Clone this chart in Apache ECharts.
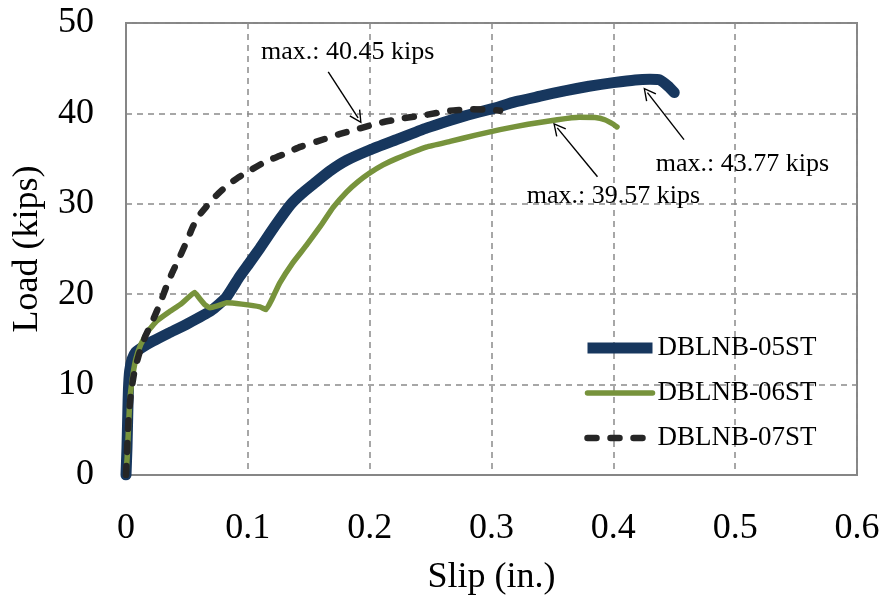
<!DOCTYPE html>
<html>
<head>
<meta charset="utf-8">
<title>Load–slip curves</title>
<script src="https://cdn.jsdelivr.net/npm/echarts@6/dist/echarts.min.js"></script>
<style>
  html, body { margin: 0; padding: 0; background: #fff; }
  #chart { width: 885px; height: 598px; }
</style>
</head>
<body>
<div id="chart"></div>
<script>
// Specimen names
const seriesNames = ['DBLNB-05ST', 'DBLNB-06ST', 'DBLNB-07ST'];

// DBLNB-05ST: slip (in.) and load (kips)
const slip05 = [0, 0.0008, 0.0015, 0.002, 0.003, 0.005, 0.008, 0.013, 0.022, 0.035, 0.050, 0.070, 0.082,
  0.093, 0.101, 0.110, 0.122, 0.135, 0.144, 0.154, 0.167, 0.181, 0.200, 0.222, 0.247, 0.265, 0.280, 0.300,
  0.320, 0.340, 0.360, 0.380, 0.400, 0.418, 0.430, 0.438, 0.445, 0.450];
const load05 = [0, 3, 7, 9.5, 11.5, 12.8, 13.6, 14.1, 14.8, 15.7, 16.7, 18.2, 19.6,
  21.9, 23.4, 25.1, 27.5, 29.9, 31.1, 32.2, 33.6, 34.8, 35.95, 37.1, 38.4, 39.2, 39.8, 40.5,
  41.3, 41.9, 42.5, 43.0, 43.4, 43.7, 43.77, 43.7, 43.0, 42.3];

// DBLNB-06ST
const slip06 = [0, 0.001, 0.002, 0.003, 0.005, 0.008, 0.012, 0.018, 0.025, 0.035, 0.045, 0.0564, 0.060,
  0.065, 0.069, 0.075, 0.0825, 0.095, 0.110, 0.115, 0.120, 0.126, 0.137, 0.148, 0.160, 0.170, 0.181,
  0.190, 0.200, 0.211, 0.222, 0.247, 0.266, 0.287, 0.307, 0.330, 0.354, 0.372, 0.385, 0.393, 0.400, 0.403];
const load06 = [0, 2, 5, 8, 10.5, 12.8, 14.4, 15.9, 17.0, 18.0, 18.9, 20.2, 19.6,
  18.8, 18.5, 18.7, 19.05, 18.9, 18.6, 18.3, 19.5, 21.2, 23.5, 25.4, 27.6, 29.6, 31.3,
  32.4, 33.4, 34.3, 35.0, 36.3, 36.9, 37.6, 38.2, 38.8, 39.3, 39.57, 39.55, 39.3, 38.8, 38.5];

// DBLNB-07ST
const slip07 = [0, 0.001, 0.002, 0.004, 0.007, 0.011, 0.016, 0.022, 0.028, 0.033, 0.038, 0.044, 0.050, 0.055,
  0.060, 0.066, 0.074, 0.082, 0.092, 0.102, 0.115, 0.128, 0.143, 0.157, 0.175, 0.192, 0.210, 0.225, 0.247,
  0.266, 0.285, 0.300, 0.307];
const load07 = [0, 3, 6, 9, 11.5, 13.5, 15.4, 17.1, 19.0, 20.8, 22.4, 24.1, 25.9, 27.5,
  28.7, 29.7, 30.9, 31.9, 32.9, 33.7, 34.7, 35.4, 36.3, 36.9, 37.7, 38.35, 39.0, 39.4, 39.85,
  40.3, 40.45, 40.4, 40.3];

// Axis ticks
const xTicks = [0, 0.1, 0.2, 0.3, 0.4, 0.5, 0.6];
const yTicks = [0, 10, 20, 30, 40, 50];

// Peak-load callouts: label anchor, arrow tail, arrow head (slip, load)
const callout05 = { text: [0.506, 34.4], tail: [0.458, 37.1], head: [0.428, 42.3] };
const callout06 = { text: [0.400, 30.8], tail: [0.387, 33.0], head: [0.354, 38.4] };
const callout07 = { text: [0.182, 46.8], tail: [0.166, 44.6], head: [0.1905, 39.5] };

const FONT = '"Liberation Serif", "Times New Roman", serif';
const colors = ['#17375E', '#77933C', '#262626'];

function pairs(xs, ys) { return xs.map((x, i) => [x, ys[i]]); }
function peakLabel(ys) { return 'max.: ' + Math.max(...ys).toFixed(2) + ' kips'; }

// Open (chevron) arrow head, tip at top
const chevron = 'path://M0,0 L7,13 L5.6,13.6 L0,3 L-5.6,13.6 L-7,13 Z';

function callout(c, ys) {
  return {
    markLine: {
      silent: true,
      animation: false,
      symbol: ['none', chevron],
      symbolSize: [13, 13],
      label: { show: false },
      lineStyle: { color: '#000', width: 1.4, type: 'solid' },
      data: [[{ coord: c.tail }, { coord: c.head }]]
    },
    markPoint: {
      silent: true,
      animation: false,
      symbol: 'rect',
      symbolSize: 1,
      itemStyle: { color: 'rgba(0,0,0,0)' },
      label: {
        show: true, position: 'inside', color: '#000',
        fontFamily: FONT, fontSize: 26, formatter: peakLabel(ys)
      },
      data: [{ coord: c.text }]
    }
  };
}

const chart = echarts.init(document.getElementById('chart'), null, { renderer: 'canvas' });

chart.setOption({
  animation: false,
  backgroundColor: '#fff',
  grid: {
    left: 126, right: 28, top: 23, bottom: 123,
    containLabel: false, outerBoundsMode: 'none',
    show: true, borderColor: '#868686', borderWidth: 2, backgroundColor: 'transparent'
  },
  xAxis: {
    type: 'value', min: xTicks[0], max: xTicks[xTicks.length - 1], interval: 0.1,
    name: 'Slip (in.)', nameLocation: 'middle', nameGap: 85,
    nameTextStyle: { fontFamily: FONT, fontSize: 36, color: '#000' },
    axisLine: { show: true, lineStyle: { color: '#868686', width: 2 } },
    axisTick: { show: false },
    axisLabel: { fontFamily: FONT, fontSize: 36, color: '#000', margin: 36,
      formatter: v => String(xTicks.find(t => Math.abs(t - v) < 1e-9) ?? v) },
    splitLine: { show: true, lineStyle: { color: '#8a8a8a', width: 1.5, type: [6, 5] } }
  },
  yAxis: {
    type: 'value', min: yTicks[0], max: yTicks[yTicks.length - 1], interval: 10,
    name: 'Load (kips)', nameLocation: 'middle', nameGap: 80, nameRotate: 90,
    nameTextStyle: { fontFamily: FONT, fontSize: 36, color: '#000' },
    axisLine: { show: true, lineStyle: { color: '#868686', width: 2 } },
    axisTick: { show: false },
    axisLabel: { fontFamily: FONT, fontSize: 36, color: '#000', margin: 32 },
    splitLine: { show: true, lineStyle: { color: '#8a8a8a', width: 1.5, type: [6, 5] } }
  },
  legend: {
    data: [
      { name: seriesNames[0], lineStyle: { cap: 'butt' } },
      { name: seriesNames[1] },
      { name: seriesNames[2] }
    ],
    orient: 'vertical',
    left: 577, top: 328,
    itemWidth: 65, itemHeight: 14, itemGap: 15,
    textStyle: { fontFamily: FONT, fontSize: 27, color: '#000', lineHeight: 30 },
    lineStyle: { width: 'inherit' },
    itemStyle: { opacity: 0, borderWidth: 0 },
    selectedMode: false
  },
  series: [
    Object.assign({
      name: seriesNames[0], type: 'line', data: pairs(slip05, load05),
      symbol: 'none', showSymbol: false, smooth: 0.15, z: 2,
      lineStyle: { color: colors[0], width: 11, cap: 'round', join: 'round' },
      itemStyle: { color: colors[0] }
    }, callout(callout05, load05)),
    Object.assign({
      name: seriesNames[1], type: 'line', data: pairs(slip06, load06),
      symbol: 'none', showSymbol: false, smooth: 0.1, z: 3,
      lineStyle: { color: colors[1], width: 5.5, cap: 'round', join: 'round' },
      itemStyle: { color: colors[1] }
    }, callout(callout06, load06)),
    Object.assign({
      name: seriesNames[2], type: 'line', data: pairs(slip07, load07),
      symbol: 'none', showSymbol: false, smooth: 0.15, z: 4,
      lineStyle: { color: colors[2], width: 6.5, type: [9, 14], cap: 'round', join: 'round' },
      itemStyle: { color: colors[2] }
    }, callout(callout07, load07))
  ]
});
</script>
</body>
</html>
